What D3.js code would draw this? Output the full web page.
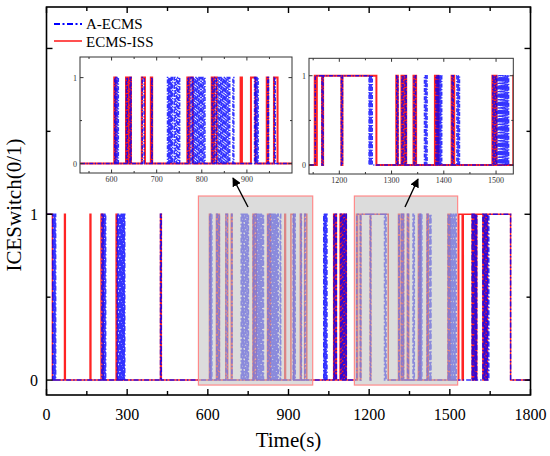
<!DOCTYPE html>
<html><head><meta charset="utf-8">
<script src="https://cdn.jsdelivr.net/npm/d3@7"></script>
<style>body{margin:0;background:#fff}svg{display:block}text{font-family:"Liberation Serif","Times New Roman",serif}</style>
</head><body>
<script>
// ---- data (seconds, ICE on-intervals) ----
const seriesNames = ["A-ECMS", "ECMS-ISS"];
const xTicksMain = [0, 300, 600, 900, 1200, 1500, 1800];
const yTicksMain = [0, 1];
const inset1Ticks = [600, 700, 800, 900];
const inset2Ticks = [1200, 1300, 1400, 1500];
const zoomRanges = [[565, 990], [1145, 1529]];

const redOn = [
 [0,22],[67,70],[162,165],[203,210],[259,262],[424,427],
 [606,609],[632,636],[640,643],[667,674],[687,690],[768,772],[773,780],[822,826],[827,833],[886,889],[909,919],[944,947],[960,968],
 [1068,1070],[1075,1078],[1092,1095],[1100,1102],[1106,1109],[1112,1115],
 [1153,1156],[1157,1167],[1169,1204],[1206,1271],[1309,1312],[1319,1322],[1325,1328],[1342,1344],[1345,1347],
 [1383,1386],[1388,1390],[1415,1417],[1418,1420],[1493,1496],[1498,1501],
 [1533,1546],[1550,1583],[1586,1590],[1593,1597],[1600,1623],[1627,1630],[1633,1637],[1640,1726]
];
const blueOn = [
 [0,23],[24,26],[27,29],[30,31],[32,34],
 [206,208],[209,211],[212,214],[215,217],[218,220],
 [263,265],[266,268],[270,272],[274,276],[278,280],[282,284],[286,288],[289,291],
 [424,427],
 [607,609],[610,612],[613,615],
 [633,635],[641,643],[668,672],[689,690],
 [724,726],[727,729],[730,732],[733,735],[739,741],[744,746],[749,751],
 [769,771],[776,779],
 [781,783],[785,787],[789,791],[793,795],[797,799],[801,803],[805,807],
 [823,825],[829,832],
 [836,838],[840,842],[844,846],[848,850],[852,854],[856,858],[860,862],[869,871],
 [917,919],[920,922],[923,925],[946,948],[961,963],
 [1031,1033],[1034,1036],[1037,1039],[1040,1043],
 [1069,1071],[1076,1078],[1094,1096],[1101,1103],[1107,1109],[1113,1115],
 [1154,1167],[1169,1204],[1206,1257],[1258,1260],[1261,1263],
 [1310,1312],[1320,1322],[1326,1328],[1343,1346],
 [1363,1365],[1366,1368],
 [1385,1387],[1388,1390],[1391,1393],[1394,1396],
 [1416,1418],[1425,1427],[1428,1430],
 [1494,1496],[1499,1501],[1504,1506],[1507,1509],[1510,1512],[1513,1515],[1516,1518],[1519,1521],[1522,1524],
 [1583,1585],[1588,1590],[1594,1596],[1598,1600],
 [1623,1625],[1628,1630],[1634,1636],[1639,1641],
 [1645,1726]
];

const W = 550, H = 456;
const BLUE = "#0000ff", RED = "#ff2424";
const svg = d3.select("body").append("svg").attr("width", W).attr("height", H);

function stepPoints(intervals, tEnd) {
  const pts = [];
  let first = true;
  intervals.forEach(([a, b]) => {
    if (first && a <= 0) { pts.push([0, 1]); }
    else { if (first) pts.push([0, 0]); pts.push([a, 0]); pts.push([a, 1]); }
    pts.push([b, 1]); pts.push([b, 0]);
    first = false;
  });
  pts.push([tEnd, 0]);
  return pts;
}
const redPts = stepPoints(redOn, 1800);
const bluePts = stepPoints(blueOn, 1800);

function drawPanel(g, x, y, opts) {
  const id = opts.id;
  const [x0, x1] = x.range(), [y0, y1] = y.range();
  g.append("clipPath").attr("id", id).append("rect")
    .attr("x", x0).attr("y", y1).attr("width", x1 - x0).attr("height", y0 - y1);
  if (opts.bg) g.append("rect").attr("x", x0).attr("y", y1).attr("width", x1 - x0).attr("height", y0 - y1).attr("fill", "#fff");
  const line = d3.line().x(d => x(d[0])).y(d => y(d[1]));
  const pg = g.append("g").attr("clip-path", `url(#${id})`);
  pg.append("path").attr("d", line(redPts)).attr("fill", "none").attr("stroke", RED).attr("stroke-width", opts.rlw);
  pg.append("path").attr("d", line(bluePts)).attr("fill", "none").attr("stroke", BLUE).attr("stroke-opacity", 0.8)
    .attr("stroke-width", opts.lw).attr("stroke-dasharray", opts.dash);
  if (opts.after) opts.after(pg);
  g.append("rect").attr("x", x0).attr("y", y1).attr("width", x1 - x0).attr("height", y0 - y1)
    .attr("fill", "none").attr("stroke", opts.frame).attr("stroke-width", opts.fw);
}

// ---- main panel ----
const x = d3.scaleLinear().domain([0, 1800]).range([46.5, 530.5]);
const y = d3.scaleLinear().domain([-0.09, 2.25]).range([395, 7]);
const main = svg.append("g");
drawPanel(main, x, y, {
  id: "cm", lw: 1.5, rlw: 1.5, dash: "5,2,1.5,2", frame: "#000", fw: 1.6,
  after: pg => {
    zoomRanges.forEach(([a, b]) => {
      pg.append("rect").attr("x", x(a)).attr("y", y(1.11)).attr("width", x(b) - x(a)).attr("height", y(-0.03) - y(1.11))
        .attr("fill", "#c4c4c4").attr("fill-opacity", 0.6).attr("stroke", "#ff8a8a").attr("stroke-width", 1.2);
    });
  }
});
const mt = main.append("g");
d3.range(0, 1801, 150).forEach(v => {
  const len = v % 300 === 0 ? 6 : 4;
  mt.append("line").attr("x1", x(v)).attr("x2", x(v)).attr("y1", 395).attr("y2", 395 - len).attr("stroke", "#000").attr("stroke-width", 1.4);
  mt.append("line").attr("x1", x(v)).attr("x2", x(v)).attr("y1", 7).attr("y2", 7 + len).attr("stroke", "#000").attr("stroke-width", 1.4);
});
[0, 0.5, 1, 1.5, 2].forEach(v => {
  const len = v % 1 === 0 ? 6 : 4;
  mt.append("line").attr("y1", y(v)).attr("y2", y(v)).attr("x1", 46.5).attr("x2", 46.5 + len).attr("stroke", "#000").attr("stroke-width", 1.4);
  mt.append("line").attr("y1", y(v)).attr("y2", y(v)).attr("x1", 530.5).attr("x2", 530.5 - len).attr("stroke", "#000").attr("stroke-width", 1.4);
});
main.append("g").selectAll("text").data(xTicksMain).join("text")
  .attr("x", d => x(d)).attr("y", 420).attr("text-anchor", "middle").attr("font-size", 16).text(d => d);
main.append("g").selectAll("text").data(yTicksMain).join("text")
  .attr("x", 38).attr("y", d => y(d) + 5.5).attr("text-anchor", "end").attr("font-size", 16).text(d => d);
svg.append("text").attr("x", 288.5).attr("y", 447).attr("text-anchor", "middle").attr("font-size", 21).text("Time(s)");
svg.append("text").attr("transform", "translate(21,205) rotate(-90)").attr("text-anchor", "middle").attr("font-size", 21).text("ICESwitch(0/1)");

// legend
const lg = svg.append("g");
lg.append("line").attr("x1", 54).attr("x2", 82).attr("y1", 24).attr("y2", 24).attr("stroke", BLUE).attr("stroke-width", 2).attr("stroke-dasharray", "6,2.5,2,2.5");
lg.append("text").attr("x", 86).attr("y", 29).attr("font-size", 15).text(seriesNames[0]);
lg.append("line").attr("x1", 54).attr("x2", 82).attr("y1", 41).attr("y2", 41).attr("stroke", RED).attr("stroke-width", 1.6);
lg.append("text").attr("x", 86).attr("y", 47).attr("font-size", 15).text(seriesNames[1]);

// ---- insets ----
function inset(id, dom, xr, ydom, yr, ticks) {
  const xi = d3.scaleLinear().domain(dom).range(xr);
  const yi = d3.scaleLinear().domain(ydom).range(yr);
  const g = svg.append("g");
  drawPanel(g, xi, yi, { id, lw: 1.5, rlw: 2, dash: "4,1.5,1.2,1.5", frame: "#333", fw: 1, bg: true });
  const t = g.append("g");
  const minor = d3.range(Math.ceil(dom[0] / 50) * 50, dom[1], 50);
  minor.forEach(v => {
    const len = v % 100 === 0 ? 3.5 : 2;
    t.append("line").attr("x1", xi(v)).attr("x2", xi(v)).attr("y1", yr[0]).attr("y2", yr[0] - len).attr("stroke", "#333");
    t.append("line").attr("x1", xi(v)).attr("x2", xi(v)).attr("y1", yr[1]).attr("y2", yr[1] + len).attr("stroke", "#333");
  });
  [0, 0.5, 1].forEach(v => {
    const len = v === 0.5 ? 2 : 3.5;
    t.append("line").attr("y1", yi(v)).attr("y2", yi(v)).attr("x1", xr[0]).attr("x2", xr[0] + len).attr("stroke", "#333");
    t.append("line").attr("y1", yi(v)).attr("y2", yi(v)).attr("x1", xr[1]).attr("x2", xr[1] - len).attr("stroke", "#333");
  });
  g.append("g").selectAll("text").data(ticks).join("text")
    .attr("x", d => xi(d)).attr("y", yr[0] + 9).attr("text-anchor", "middle").attr("font-size", 8).attr("fill", "#333").text(d => d);
  g.append("g").selectAll("text").data([0, 1]).join("text")
    .attr("x", xr[0] - 3).attr("y", d => yi(d) + 3).attr("text-anchor", "end").attr("font-size", 8).attr("fill", "#333").text(d => d);
}
inset("c1", [530, 1000], [80, 292], [-0.11, 1.24], [173, 57], inset1Ticks);
inset("c2", [1142, 1533], [309, 513.3], [-0.1, 1.195], [174, 58.3], inset2Ticks);

// arrows
const defs = svg.append("defs");
defs.append("marker").attr("id", "ah").attr("viewBox", "0 0 10 10").attr("refX", 9).attr("refY", 5)
  .attr("markerWidth", 9).attr("markerHeight", 9).attr("markerUnits", "userSpaceOnUse").attr("orient", "auto")
  .append("path").attr("d", "M0,0 L10,5 L0,10 Z").attr("fill", "#000");
[[248, 207, 233, 178], [405, 207, 418, 179]].forEach(([a, b, c, d]) => {
  svg.append("line").attr("x1", a).attr("y1", b).attr("x2", c).attr("y2", d)
    .attr("stroke", "#000").attr("stroke-width", 1.4).attr("marker-end", "url(#ah)");
});
</script>
</body></html>
